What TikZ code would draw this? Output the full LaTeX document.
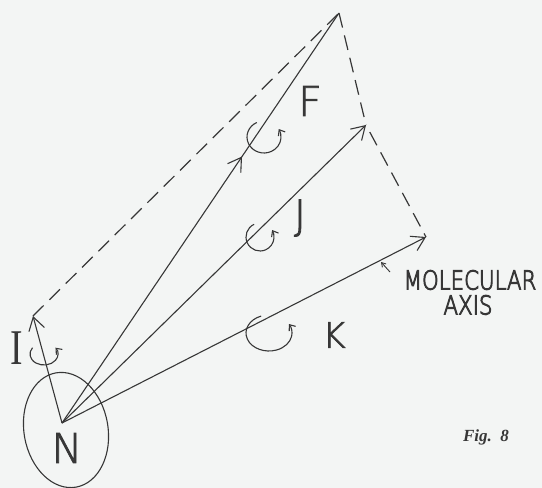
\documentclass[tikz,border=0pt]{standalone}
\usepackage{fontspec}
\newfontfamily\serifhand{Liberation Serif}
\newfontfamily\handsans{DejaVu Sans ExtraLight}[FakeBold=2]
\newfontfamily\handsmall{DejaVu Sans ExtraLight}[FakeBold=4]
\usetikzlibrary{arrows.meta,decorations.markings,calc,shapes.geometric}
\definecolor{ink}{RGB}{55,55,55}
\definecolor{paper}{RGB}{243,245,244}
\begin{document}
\begin{tikzpicture}[x=1pt,y=-1pt,
  line/.style={draw=ink,line width=1.1pt},
  vec/.style={line,-{Straight Barb[length=13pt,width=16pt]}},
  dashedge/.style={draw=ink,line width=1.2pt,dash pattern=on 15pt off 8pt},
  curl/.style={draw=ink,line width=1.1pt,-{Straight Barb[length=5pt,width=8pt]}},
  lbl/.style={inner sep=0pt,text=ink,font=\handsans\fontsize{41}{41}\selectfont},
  small/.style={inner sep=0pt,text=ink,font=\handsmall\fontsize{26}{26}\selectfont},
]
\fill[paper] (0,0) rectangle (542,488);
\useasboundingbox (0,0) rectangle (542,488);

\coordinate (O) at (62,423);
\coordinate (A) at (339,13);
\coordinate (Ip) at (33,316);
\coordinate (Jp) at (366,125);
\coordinate (Kp) at (426,237);

\node[draw=ink,line width=1.1pt,ellipse,minimum width=84pt,minimum height=116pt,rotate=10] (nuc) at (66,430) {};

\draw[vec] (O) -- (Ip);
\draw[line,postaction={decorate},decoration={markings,mark=at position 0.65 with {\arrow{Straight Barb[length=13pt,width=16pt]}}}] (O) -- (A);
\draw[vec] (O) -- (Jp);
\draw[vec] (O) -- (Kp);
\draw[dashedge] (Ip) -- (A);
\draw[dashedge] (A) -- (Jp);
\draw[dashedge] ($(Jp)!8pt!(Kp)$) -- (Kp);

% rotation curls
\coordinate (cF) at (264,137);
\coordinate (cJ) at (260,237);
\coordinate (cK) at (269,333);
\coordinate (cI) at (44,354);
\draw[curl] ([shift={(-115:17 and 16)}]cF) arc[start angle=-115,end angle=-390,x radius=17,y radius=16];
\draw[curl] ([shift={(-115:14 and 14)}]cJ) arc[start angle=-115,end angle=-390,x radius=14,y radius=14];
\draw[curl] ([shift={(-110:23 and 18)}]cK) arc[start angle=-110,end angle=-390,x radius=23,y radius=18];
\draw[curl] ([shift={(-145:14 and 11)}]cI) arc[start angle=-145,end angle=-395,x radius=14,y radius=11];

% labels
\node[lbl] (N) at (67,448) {N};
\node[lbl] (F) at (310,101) {F};
\node[lbl] (J) at (300,218) {J};
\node[lbl,font=\handsans\fontsize{35}{35}\selectfont] (K) at (334,335) {K};
\node[inner sep=0pt,text=ink,font=\serifhand\fontsize{50}{50}\selectfont] (I) at (17,348) {\scalebox{0.75}[1]{I}};

\node[small] (mol) at (470,280) {\scalebox{0.82}[1]{MOLECULAR}};
\node[small] (axis) at (468,305) {\scalebox{0.82}[1]{AXIS}};
\coordinate (axTail) at (390,272);
\coordinate (axTip) at (381,262);
\draw[draw=ink,line width=0.9pt,-{Straight Barb[length=4pt,width=5pt]}] (axTail) -- (axTip);

\node[inner sep=0pt,text=ink,font=\serifhand\bfseries\itshape\fontsize{17}{17}\selectfont] (fig) at (486,437) {Fig.\ \ 8};
\end{tikzpicture}
\end{document}
